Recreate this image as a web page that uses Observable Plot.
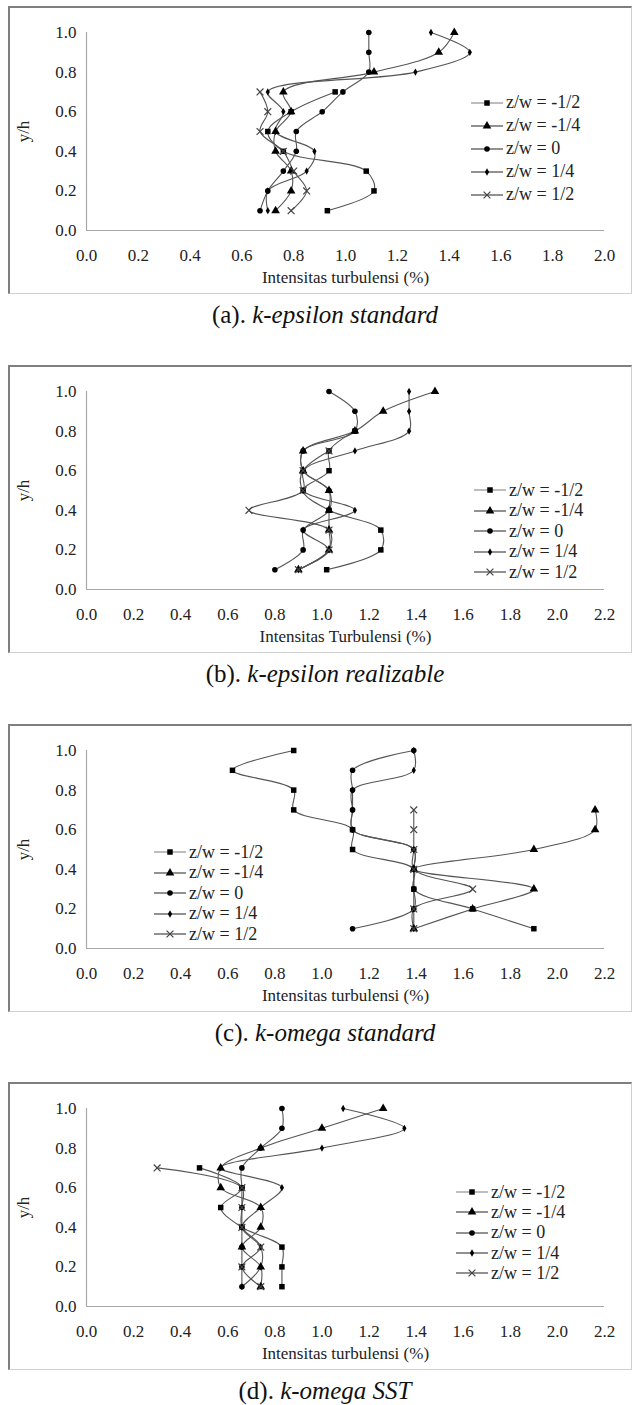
<!DOCTYPE html>
<html><head><meta charset="utf-8">
<script src="https://cdn.jsdelivr.net/npm/d3@7"></script>
<script src="https://cdn.jsdelivr.net/npm/@observablehq/plot@0.6"></script>
<style>
body{margin:0;background:#fff;}
#page{position:relative;width:638px;height:1405px;font-family:"Liberation Serif","Times New Roman",serif;color:#222;overflow:hidden;}
.box{position:absolute;left:8px;width:624px;height:288px;box-sizing:border-box;border-top:2px solid #7f7f7f;border-left:2px solid #7f7f7f;border-right:1px solid #d0d0d0;border-bottom:1px solid #d0d0d0;}
.caption{position:absolute;left:0;width:650px;text-align:center;font-size:25px;line-height:28px;color:#111;}
.legend{position:absolute;font-size:18px;color:#222;}
.legend .row{display:flex;align-items:center;white-space:nowrap;}
.legend svg{display:block;margin-right:2px;}
</style></head>
<body><div id="page"></div>
<script>
// ---- shared ----
const levels = [0.1, 0.2, 0.3, 0.4, 0.5, 0.6, 0.7, 0.8, 0.9, 1.0];
const seriesLabels = ["z/w = -1/2", "z/w = -1/4", "z/w = 0", "z/w = 1/4", "z/w = 1/2"];
const yTicks = [0, 0.2, 0.4, 0.6, 0.8, 1.0];
const xTicks20 = [0, 0.2, 0.4, 0.6, 0.8, 1.0, 1.2, 1.4, 1.6, 1.8, 2.0];
const xTicks22 = [0, 0.2, 0.4, 0.6, 0.8, 1.0, 1.2, 1.4, 1.6, 1.8, 2.0, 2.2];

// ---- (a) k-epsilon standard ----
const a_m12 = [0.93, 1.11, 1.08, 0.76, 0.70, 0.79, 0.96];
const a_m14 = [0.73, 0.79, 0.79, 0.73, 0.73, 0.79, 0.76, 1.11, 1.36, 1.42];
const a_z0  = [0.67, 0.70, 0.76, 0.81, 0.81, 0.91, 0.99, 1.09, 1.09, 1.09];
const a_p14 = [0.70, 0.70, 0.85, 0.88, 0.73, 0.76, 0.70, 1.27, 1.48, 1.33];
const a_p12 = [0.79, 0.85, 0.80, 0.76, 0.67, 0.70, 0.67];

// ---- (b) k-epsilon realizable ----
const b_m12 = [1.02, 1.25, 1.25, 1.03, 0.92, 1.03, 1.03, 1.14];
const b_m14 = [0.90, 1.03, 1.03, 1.03, 1.03, 0.92, 0.92, 1.14, 1.26, 1.48];
const b_z0  = [0.80, 0.92, 0.92, 1.03, 1.03, 0.92, 0.92, 1.14, 1.14, 1.03];
const b_p14 = [0.90, 1.03, 0.92, 1.14, 0.92, 0.92, 1.14, 1.37, 1.37, 1.37];
const b_p12 = [0.90, 1.03, 1.03, 0.69, 0.92, 0.92, 1.03];

// ---- (c) k-omega standard ----
const c_m12 = [1.90, 1.64, 1.39, 1.39, 1.13, 1.13, 0.88, 0.88, 0.62, 0.88];
const c_m14 = [1.39, 1.64, 1.90, 1.39, 1.90, 2.16, 2.16];
const c_z0  = [1.13, 1.39, 1.39, 1.39, 1.39, 1.13, 1.13, 1.13, 1.13, 1.39];
const c_p14 = [1.39, 1.39, 1.39, 1.39, 1.39, 1.13, 1.13, 1.13, 1.39, 1.39];
const c_p12 = [1.39, 1.39, 1.64, 1.39, 1.39, 1.39, 1.39];

// ---- (d) k-omega SST ----
const d_m12 = [0.83, 0.83, 0.83, 0.66, 0.57, 0.66, 0.48];
const d_m14 = [0.74, 0.74, 0.66, 0.74, 0.74, 0.57, 0.57, 0.74, 1.00, 1.26];
const d_z0  = [0.66, 0.66, 0.66, 0.66, 0.66, 0.66, 0.66, 0.74, 0.83, 0.83];
const d_p14 = [0.66, 0.74, 0.74, 0.66, 0.74, 0.83, 0.57, 1.00, 1.35, 1.09];
const d_p12 = [0.74, 0.66, 0.74, 0.66, 0.66, 0.66, 0.30];

const symbols = ["square", "triangle", "circle", "diamond", "times"];
const radii = [3.1, 3.2, 2.8, 2.2, 3.2];
const serif = "'Liberation Serif', 'Times New Roman', serif";

const panels = [
  {label: "(a). ", model: "k-epsilon standard", xMax: 2.0, xTicks: xTicks20, title: "Intensitas turbulensi (%)",
   series: [a_m12, a_m14, a_z0, a_p14, a_p12], top: 6, legend: {x: 470, y: 91, dy: 23}},
  {label: "(b). ", model: "k-epsilon realizable", xMax: 2.2, xTicks: xTicks22, title: "Intensitas Turbulensi (%)",
   series: [b_m12, b_m14, b_z0, b_p14, b_p12], top: 365, legend: {x: 473, y: 480, dy: 20.5}},
  {label: "(c). ", model: "k-omega standard", xMax: 2.2, xTicks: xTicks22, title: "Intensitas turbulensi (%)",
   series: [c_m12, c_m14, c_z0, c_p14, c_p12], top: 724, legend: {x: 153, y: 842, dy: 20.5}},
  {label: "(d). ", model: "k-omega SST", xMax: 2.2, xTicks: xTicks22, title: "Intensitas turbulensi (%)",
   series: [d_m12, d_m14, d_z0, d_p14, d_p12], top: 1082, legend: {x: 455, y: 1182, dy: 20.3}}
];

const page = document.getElementById("page");
const fmt = d3.format(".1f");

function markerSvg(i) {
  const s = d3.symbol(d3[{square: "symbolSquare", triangle: "symbolTriangle", circle: "symbolCircle", diamond: "symbolDiamond", times: "symbolTimes"}[symbols[i]]], Math.PI * radii[i] * radii[i])();
  const filled = symbols[i] !== "times";
  return `<svg width="34" height="12"><line x1="1" y1="6" x2="33" y2="6" stroke="${i === 0 ? '#999' : '#555'}" stroke-width="1.3"/>` +
    `<path transform="translate(17,6)" d="${s}" fill="${filled ? '#000' : 'none'}" stroke="${filled ? 'none' : '#444'}" stroke-width="1.2"/></svg>`;
}

panels.forEach(p => {
  const box = document.createElement("div");
  box.className = "box";
  box.style.top = p.top + "px";
  page.appendChild(box);

  const rowsBySeries = p.series.map(vals => vals.map((v, i) => ({x: v, y: levels[i]})));
  const marks = [
    Plot.ruleY([0], {stroke: "#a8a8a8", strokeWidth: 1.2}),
    Plot.ruleX([0], {stroke: "#a8a8a8", strokeWidth: 1.2}),
    Plot.axisX({ticks: p.xTicks, tickFormat: fmt, tickSize: 0, tickPadding: 18, fontSize: 17, fontFamily: serif,
      label: p.title, labelAnchor: "center", labelArrow: "none", labelOffset: 52}),
    Plot.axisY({ticks: yTicks, tickFormat: fmt, tickSize: 0, tickPadding: 10, fontSize: 17, fontFamily: serif,
      label: "y/h", labelAnchor: "center", labelArrow: "none", labelOffset: 70})
  ];
  rowsBySeries.forEach((rows, i) => {
    marks.push(Plot.line(rows, {x: "x", y: "y", curve: "catmull-rom", stroke: "#555", strokeWidth: 1.1}));
  });
  rowsBySeries.forEach((rows, i) => {
    const filled = symbols[i] !== "times";
    marks.push(Plot.dot(rows, {x: "x", y: "y", symbol: () => symbols[i], r: radii[i],
      fill: filled ? "black" : "none", stroke: filled ? "none" : "#444", strokeWidth: 1.2}));
  });
  const chart = Plot.plot({
    width: 624, height: 288,
    marginLeft: 78, marginRight: 28, marginTop: 26, marginBottom: 64,
    x: {domain: [0, p.xMax]},
    y: {domain: [0, 1]},
    symbol: {type: "identity"},
    style: {fontFamily: serif, fontSize: "17px", color: "#222", background: "transparent", overflow: "visible"},
    marks
  });
  chart.style.position = "absolute";
  chart.style.left = "8px";
  chart.style.top = p.top + "px";
  page.appendChild(chart);

  const lg = document.createElement("div");
  lg.className = "legend";
  lg.style.left = p.legend.x + "px";
  lg.style.top = p.legend.y + "px";
  lg.innerHTML = seriesLabels.map((t, i) =>
    `<div class="row" style="height:${p.legend.dy}px">${markerSvg(i)}<span>${t}</span></div>`).join("");
  page.appendChild(lg);

  const cap = document.createElement("div");
  cap.className = "caption";
  cap.style.top = (p.top + 295) + "px";
  cap.innerHTML = `${p.label}<i>${p.model}</i>`;
  page.appendChild(cap);
});
</script></body></html>
